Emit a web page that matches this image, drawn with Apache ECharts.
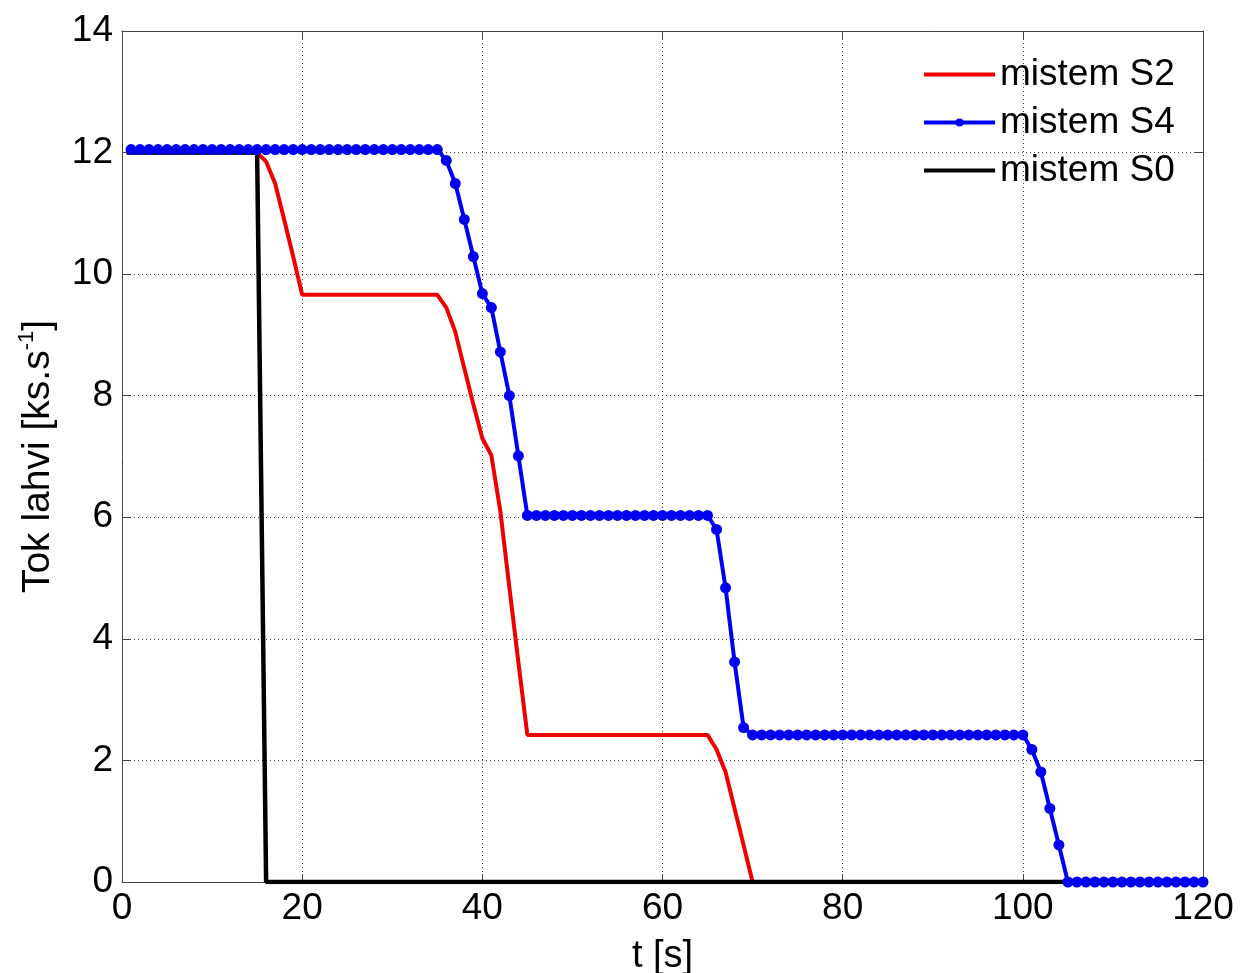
<!DOCTYPE html>
<html>
<head>
<meta charset="utf-8">
<script src="https://cdn.jsdelivr.net/npm/echarts@6/dist/echarts.min.js"></script>
<style>
html,body{margin:0;padding:0;background:#fff;}
#chart{width:1241px;height:973px;}
</style>
</head>
<body>
<div id="chart"></div>
<script>
// ---- data ----
const seriesNames = ['mistem S2', 'mistem S4', 'mistem S0'];
const xTicks = [0, 20, 40, 60, 80, 100, 120];
const yTicks = [0, 2, 4, 6, 8, 10, 12, 14];

// mistem S2 (red) breakpoints: time [s], value
const s2Time = [1, 15, 16, 17, 18, 19, 20, 35, 36, 37, 38, 39, 40, 41, 42, 43, 44, 45, 65, 66, 67, 68, 69, 70, 120];
const s2Value = [12.0, 12.0, 11.85, 11.49, 10.9, 10.29, 9.66, 9.66, 9.45, 9.05, 8.45, 7.86, 7.3, 7.02, 6.1, 4.85, 3.62, 2.42, 2.42, 2.18, 1.81, 1.21, 0.61, 0, 0];

// mistem S4 (blue, markers) sampled every second, t = 1..120
const s4Value = [
  12.05, 12.05, 12.05, 12.05, 12.05, 12.05, 12.05, 12.05, 12.05, 12.05,
  12.05, 12.05, 12.05, 12.05, 12.05, 12.05, 12.05, 12.05, 12.05, 12.05,
  12.05, 12.05, 12.05, 12.05, 12.05, 12.05, 12.05, 12.05, 12.05, 12.05,
  12.05, 12.05, 12.05, 12.05, 12.05,
  11.87, 11.49, 10.9, 10.29, 9.68, 9.45, 8.72, 8.0, 7.01, 6.03,
  6.03, 6.03, 6.03, 6.03, 6.03, 6.03, 6.03, 6.03, 6.03, 6.03,
  6.03, 6.03, 6.03, 6.03, 6.03, 6.03, 6.03, 6.03, 6.03, 6.03,
  5.8, 4.84, 3.62, 2.54, 2.42,
  2.42, 2.42, 2.42, 2.42, 2.42, 2.42, 2.42, 2.42, 2.42, 2.42,
  2.42, 2.42, 2.42, 2.42, 2.42, 2.42, 2.42, 2.42, 2.42, 2.42,
  2.42, 2.42, 2.42, 2.42, 2.42, 2.42, 2.42, 2.42, 2.42, 2.42,
  2.18, 1.81, 1.21, 0.61, 0,
  0, 0, 0, 0, 0, 0, 0, 0, 0, 0, 0, 0, 0, 0, 0
];
const s4StartTime = 1;

// mistem S0 (black) breakpoints
const s0Time = [0.5, 15, 16, 120];
const s0Value = [12.0, 12.0, 0, 0];

// ---- build chart ----
const pairs = (t, v) => t.map((x, i) => [x, v[i]]);
const s4Data = s4Value.map((v, i) => [s4StartTime + i, v]);

const FONT = 'Liberation Sans, Arial, sans-serif';
const axisColor = '#444';
const gridLine = { show: true, lineStyle: { color: '#444', width: 1, type: [1, 3] } };
// plain thick line legend icon (keeps a 10px tall box so the line is ~4px thick)
const lineIcon = 'path://M0,0 L0.01,0 M0,3 L71,3 L71,7 L0,7 Z M0,10 L0.01,10';

const chart = echarts.init(document.getElementById('chart'), null, { renderer: 'canvas' });
chart.setOption({
  animation: false,
  backgroundColor: '#fff',
  grid: { left: 122, right: 38, top: 31, bottom: 91, containLabel: false, outerBoundsMode: 'none' },
  legend: {
    data: [
      { name: seriesNames[0], icon: lineIcon },
      { name: seriesNames[1] },
      { name: seriesNames[2], icon: lineIcon }
    ],
    orient: 'vertical',
    left: 922,
    top: 56,
    padding: 0,
    itemWidth: 71,
    itemHeight: 10,
    itemGap: 11,
    lineStyle: { width: 4 },
    textStyle: { fontFamily: FONT, fontSize: 37, lineHeight: 36, color: '#000' }
  },
  xAxis: [{
    type: 'value', min: xTicks[0], max: xTicks[xTicks.length - 1], interval: xTicks[1] - xTicks[0],
    name: 't [s]', nameLocation: 'middle', nameGap: 56,
    nameTextStyle: { fontFamily: FONT, fontSize: 38, color: '#000' },
    axisLine: { show: true, onZero: false, lineStyle: { color: axisColor, width: 1 } },
    axisTick: { show: true, inside: true, length: 8, lineStyle: { color: axisColor } },
    axisLabel: { fontFamily: FONT, fontSize: 37, color: '#000', margin: 8 },
    splitLine: gridLine
  }, {
    type: 'value', position: 'top', min: xTicks[0], max: xTicks[xTicks.length - 1], interval: xTicks[1] - xTicks[0],
    axisLine: { show: true, onZero: false, lineStyle: { color: axisColor, width: 1 } },
    axisTick: { show: true, inside: true, length: 8, lineStyle: { color: axisColor } },
    axisLabel: { show: false }, splitLine: { show: false }
  }],
  yAxis: [{
    type: 'value', min: yTicks[0], max: yTicks[yTicks.length - 1], interval: yTicks[1] - yTicks[0],
    name: '{n|Tok lahvi [ks.s}{s|-1}{n|]}', nameLocation: 'middle', nameGap: 62,
    nameTextStyle: {
      fontFamily: FONT, color: '#000',
      rich: {
        n: { fontFamily: FONT, fontSize: 39, color: '#000', lineHeight: 44 },
        s: { fontFamily: FONT, fontSize: 22, color: '#000', verticalAlign: 'top', lineHeight: 44, padding: [0, 0, 18, 0] }
      }
    },
    axisLine: { show: true, onZero: false, lineStyle: { color: axisColor, width: 1 } },
    axisTick: { show: true, inside: true, length: 8, lineStyle: { color: axisColor } },
    axisLabel: { fontFamily: FONT, fontSize: 37, color: '#000', margin: 9 },
    splitLine: gridLine
  }, {
    type: 'value', position: 'right', min: yTicks[0], max: yTicks[yTicks.length - 1], interval: yTicks[1] - yTicks[0],
    axisLine: { show: true, onZero: false, lineStyle: { color: axisColor, width: 1 } },
    axisTick: { show: true, inside: true, length: 8, lineStyle: { color: axisColor } },
    axisLabel: { show: false }, splitLine: { show: false }
  }],
  series: [
    {
      name: seriesNames[0], type: 'line', data: pairs(s2Time, s2Value),
      showSymbol: false, symbol: 'none',
      lineStyle: { color: '#ee0000', width: 4 }, itemStyle: { color: '#ee0000' }, z: 2
    },
    {
      name: seriesNames[2], type: 'line', data: pairs(s0Time, s0Value),
      showSymbol: false, symbol: 'none',
      lineStyle: { color: '#000', width: 4.5 }, itemStyle: { color: '#000' }, z: 3
    },
    {
      name: seriesNames[1], type: 'line', data: s4Data,
      symbol: 'circle', symbolSize: 11, showAllSymbol: true,
      lineStyle: { color: '#0000f0', width: 4 }, itemStyle: { color: '#0000f0' }, z: 4
    }
  ]
});
</script>
</body>
</html>
